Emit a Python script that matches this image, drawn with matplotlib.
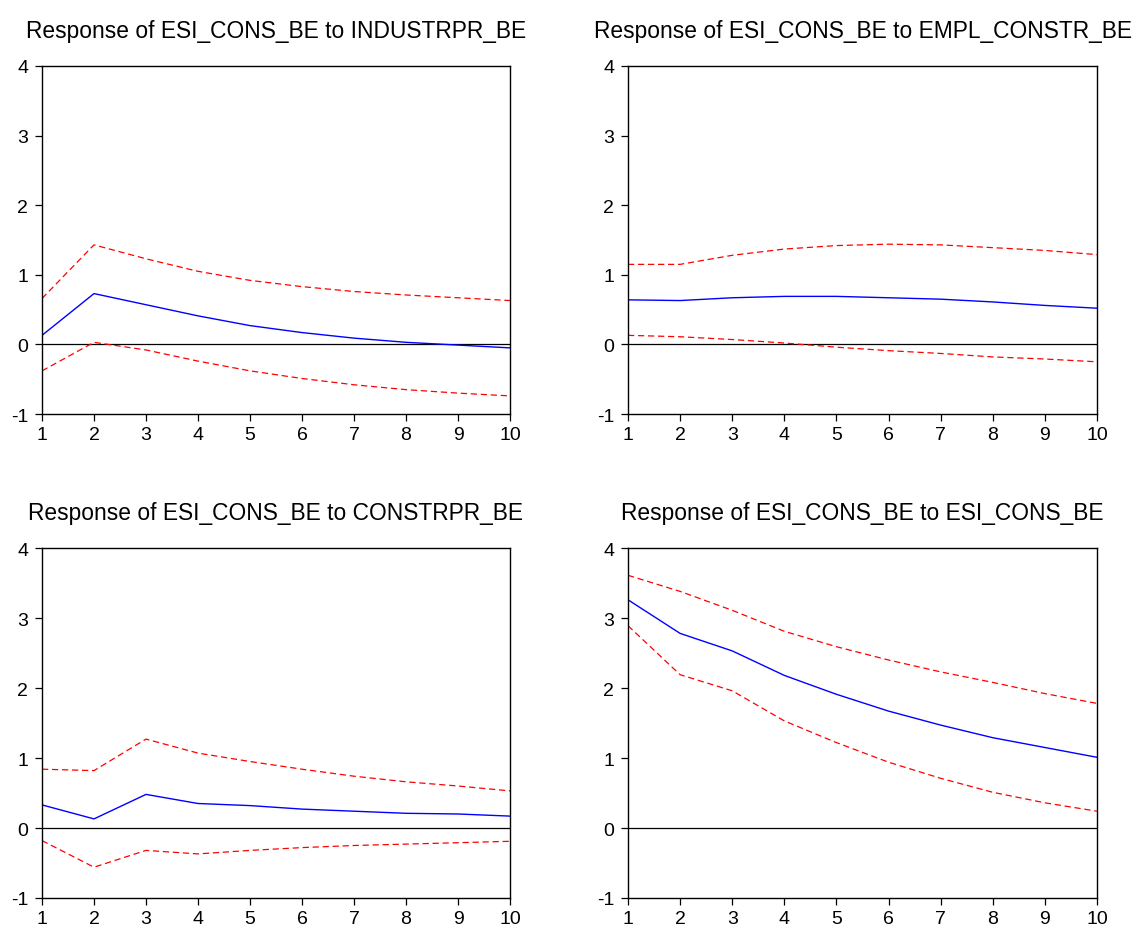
import numpy as np
import matplotlib.pyplot as plt

plt.rcParams['font.family'] = ['Liberation Sans', 'DejaVu Sans']
plt.rcParams['axes.unicode_minus'] = False

periods = np.arange(1, 11)

titles = ["Response of ESI_CONS_BE to INDUSTRPR_BE",
          "Response of ESI_CONS_BE to EMPL_CONSTR_BE",
          "Response of ESI_CONS_BE to CONSTRPR_BE",
          "Response of ESI_CONS_BE to ESI_CONS_BE"]

# impulse responses and +/- 2 s.e. bands
resp_industr = [0.13, 0.73, 0.57, 0.41, 0.27, 0.17, 0.09, 0.03, -0.01, -0.05]
upper_industr = [0.66, 1.43, 1.23, 1.05, 0.92, 0.83, 0.76, 0.71, 0.67, 0.63]
lower_industr = [-0.38, 0.03, -0.08, -0.24, -0.38, -0.49, -0.58, -0.65, -0.70, -0.74]

resp_empl = [0.64, 0.63, 0.67, 0.69, 0.69, 0.67, 0.65, 0.61, 0.56, 0.52]
upper_empl = [1.15, 1.15, 1.28, 1.37, 1.42, 1.44, 1.43, 1.39, 1.35, 1.29]
lower_empl = [0.13, 0.11, 0.07, 0.02, -0.04, -0.09, -0.13, -0.18, -0.21, -0.25]

resp_constr = [0.33, 0.13, 0.48, 0.35, 0.32, 0.27, 0.24, 0.21, 0.20, 0.17]
upper_constr = [0.84, 0.82, 1.27, 1.07, 0.95, 0.84, 0.74, 0.66, 0.60, 0.53]
lower_constr = [-0.18, -0.56, -0.32, -0.37, -0.32, -0.28, -0.25, -0.23, -0.21, -0.19]

resp_esi = [3.26, 2.78, 2.53, 2.18, 1.91, 1.67, 1.47, 1.29, 1.15, 1.01]
upper_esi = [3.61, 3.38, 3.11, 2.81, 2.59, 2.40, 2.23, 2.08, 1.92, 1.78]
lower_esi = [2.89, 2.19, 1.96, 1.53, 1.22, 0.94, 0.71, 0.51, 0.36, 0.24]

panels = [(resp_industr, upper_industr, lower_industr),
          (resp_empl, upper_empl, lower_empl),
          (resp_constr, upper_constr, lower_constr),
          (resp_esi, upper_esi, lower_esi)]

W, H = 1137, 929
fig = plt.figure(figsize=(W / 100, H / 100), dpi=100)

# axes boxes in pixels: left, right, top, bottom
boxes = [(42, 510, 67, 415), (628, 1097, 67, 415),
         (42, 510, 549, 899), (628, 1097, 549, 899)]

for (l, r, t, b), title, (resp, up, lo) in zip(boxes, titles, panels):
    ax = fig.add_axes([l / W, 1 - b / H, (r - l) / W, (b - t) / H])
    ax.axhline(0, color='black', lw=0.9)
    ax.plot(periods, up, color='red', ls=(0, (5, 3)), lw=0.9)
    ax.plot(periods, lo, color='red', ls=(0, (5, 3)), lw=0.9)
    ax.plot(periods, resp, color='blue', lw=1.0)
    ax.set_xlim(1, 10)
    ax.set_ylim(-1, 4)
    ax.set_xticks(periods)
    ax.set_yticks([-1, 0, 1, 2, 3, 4])
    ax.tick_params(direction='out', length=5, width=0.9, labelsize=14,
                   top=False, right=False)
    ax.tick_params(axis='x', pad=4)
    ax.tick_params(axis='y', pad=5)
    for s in ax.spines.values():
        s.set_linewidth(1.0)
    ax.set_title(title, fontsize=16.4, pad=21)

fig.savefig('out.png', dpi=100, facecolor='white')
